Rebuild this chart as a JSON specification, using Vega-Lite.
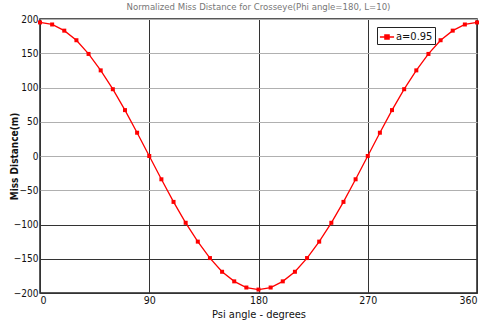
{
  "$schema": "https://vega.github.io/schema/vega-lite/v6.json",
  "width": 437,
  "height": 274,
  "autosize": {"type": "none"},
  "padding": {"left": 40, "top": 19, "right": 11, "bottom": 30},
  "background": "white",
  "config": {
    "view": {"stroke": "#222", "strokeWidth": 1.5},
    "font": "DejaVu Sans Condensed, Liberation Sans"
  },
  "title": {
    "text": "Normalized Miss Distance for Crosseye(Phi angle=180, L=10)",
    "fontSize": 9.5,
    "fontWeight": "normal",
    "color": "#777",
    "font": "DejaVu Sans Condensed, Liberation Sans",
    "anchor": "middle",
    "offset": 3
  },
  "data": {
    "values": [
      {"psi": 0, "d": 195, "s": "a=0.95"},
      {"psi": 10, "d": 192, "s": "a=0.95"},
      {"psi": 20, "d": 183, "s": "a=0.95"},
      {"psi": 30, "d": 169, "s": "a=0.95"},
      {"psi": 40, "d": 149, "s": "a=0.95"},
      {"psi": 50, "d": 125, "s": "a=0.95"},
      {"psi": 60, "d": 97.5, "s": "a=0.95"},
      {"psi": 70, "d": 67, "s": "a=0.95"},
      {"psi": 80, "d": 34, "s": "a=0.95"},
      {"psi": 90, "d": 0, "s": "a=0.95"},
      {"psi": 100, "d": -34, "s": "a=0.95"},
      {"psi": 110, "d": -67, "s": "a=0.95"},
      {"psi": 120, "d": -97.5, "s": "a=0.95"},
      {"psi": 130, "d": -125, "s": "a=0.95"},
      {"psi": 140, "d": -149, "s": "a=0.95"},
      {"psi": 150, "d": -169, "s": "a=0.95"},
      {"psi": 160, "d": -183, "s": "a=0.95"},
      {"psi": 170, "d": -192, "s": "a=0.95"},
      {"psi": 180, "d": -195, "s": "a=0.95"},
      {"psi": 190, "d": -192, "s": "a=0.95"},
      {"psi": 200, "d": -183, "s": "a=0.95"},
      {"psi": 210, "d": -169, "s": "a=0.95"},
      {"psi": 220, "d": -149, "s": "a=0.95"},
      {"psi": 230, "d": -125, "s": "a=0.95"},
      {"psi": 240, "d": -97.5, "s": "a=0.95"},
      {"psi": 250, "d": -67, "s": "a=0.95"},
      {"psi": 260, "d": -34, "s": "a=0.95"},
      {"psi": 270, "d": 0, "s": "a=0.95"},
      {"psi": 280, "d": 34, "s": "a=0.95"},
      {"psi": 290, "d": 67, "s": "a=0.95"},
      {"psi": 300, "d": 97.5, "s": "a=0.95"},
      {"psi": 310, "d": 125, "s": "a=0.95"},
      {"psi": 320, "d": 149, "s": "a=0.95"},
      {"psi": 330, "d": 169, "s": "a=0.95"},
      {"psi": 340, "d": 183, "s": "a=0.95"},
      {"psi": 350, "d": 192, "s": "a=0.95"},
      {"psi": 360, "d": 195, "s": "a=0.95"}
    ]
  },
  "layer": [
    {
      "mark": {"type": "line", "strokeWidth": 1.3, "point": {"shape": "square", "size": 16, "filled": true}},
      "encoding": {
        "x": {
          "field": "psi", "type": "quantitative",
          "scale": {"domain": [0, 360], "nice": false},
          "axis": {
            "values": [0, 90, 180, 270, 360],
            "title": "Psi angle - degrees",
            "titleFont": "DejaVu Sans Condensed, Liberation Sans",
            "titleFontSize": 11,
            "titleFontWeight": "normal",
            "titleColor": "#111",
            "titlePadding": 3,
            "labelFontSize": 10.5,
            "labelColor": "#111",
            "labelPadding": 2,
            "tickSize": 0,
            "domain": false,
            "grid": true,
            "gridColor": "#333",
            "gridWidth": 1
          }
        },
        "y": {
          "field": "d", "type": "quantitative",
          "scale": {"domain": [-200, 200], "nice": false},
          "axis": {
            "values": [-200, -150, -100, -50, 0, 50, 100, 150, 200],
            "title": "Miss Distance(m)",
            "titleFont": "DejaVu Sans Condensed, Liberation Sans",
            "titleFontSize": 10,
            "titleFontWeight": "bold",
            "titleColor": "#111",
            "titleAngle": 270,
            "titleX": -26,
            "titleY": 137,
            "titleAlign": "center",
            "titleBaseline": "middle",
            "labelFontSize": 10,
            "labelColor": "#111",
            "labelPadding": 2,
            "tickSize": 0,
            "domain": false,
            "grid": true,
            "gridColor": {"condition": {"test": "datum.value <= -100", "value": "#333"}, "value": "#b0b0b0"},
            "gridWidth": 1
          }
        },
        "color": {
          "field": "s", "type": "nominal",
          "scale": {"range": ["#ff0000"]},
          "legend": {
            "title": null,
            "orient": "none",
            "legendX": 337,
            "legendY": 8,
            "symbolType": "M-1,0L1,0M-0.3,-0.3L0.3,-0.3L0.3,0.3L-0.3,0.3Z",
            "symbolSize": 200,
            "symbolStrokeWidth": 1.3,
            "symbolFillColor": "#ff0000",
            "labelFontSize": 11,
            "labelColor": "#111",
            "labelFont": "DejaVu Sans Condensed, Liberation Sans",
            "strokeColor": "#222",
            "fillColor": "white",
            "padding": 2,
            "labelOffset": 1
          }
        }
      }
    }
  ]
}
